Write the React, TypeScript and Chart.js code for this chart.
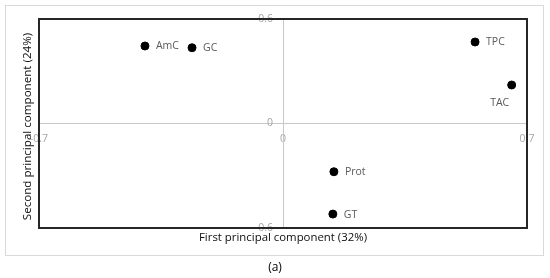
import React, { useEffect, useRef } from "react";
import { Chart, registerables } from "chart.js";

Chart.register(...registerables);

const variables = ["AmC", "GC", "TPC", "TAC", "Prot", "GT"];
const pc1Values = [-0.396, -0.261, 0.551, 0.656, 0.146, 0.143];
const pc2Values = [0.445, 0.435, 0.468, 0.221, -0.277, -0.52];
const labelSides = ["right", "right", "right", "below", "right", "right"];
const xTickValues = [-0.7, 0, 0.7];
const yTickValues = [-0.6, 0, 0.6];
const xTitle = "First principal component (32%)";
const yTitle = "Second principal component (24%)";
const caption = "(a)";

const FONT = "'Open Sans', 'Noto Sans', sans-serif";

const yTickPlugin = {
  id: "yTicks",
  beforeDatasetsDraw(chart: any) {
    const { ctx, scales } = chart;
    const xZero = scales.x.getPixelForValue(0);
    ctx.save();
    ctx.fillStyle = "#a6a6a6";
    ctx.font = `10.5px ${FONT}`;
    ctx.textAlign = "right";
    ctx.textBaseline = "middle";
    yTickValues.forEach((v) => {
      ctx.fillText(String(v), xZero - 10, scales.y.getPixelForValue(v));
    });
    ctx.restore();
  },
};

const decorPlugin = {
  id: "decor",
  afterDraw(chart: any) {
    const { ctx, chartArea } = chart;
    const { left, right, top, bottom } = chartArea;
    ctx.save();
    // outer light frame
    ctx.strokeStyle = "#d9d9d9";
    ctx.lineWidth = 1;
    ctx.strokeRect(5.5, 5.5, 538, 250);
    // plot frame
    ctx.strokeStyle = "#262626";
    ctx.lineWidth = 2;
    ctx.strokeRect(left, top, right - left, bottom - top);
    // data labels
    const meta = chart.getDatasetMeta(0);
    ctx.fillStyle = "#595959";
    ctx.font = `10.5px ${FONT}`;
    meta.data.forEach((pt: any, i: number) => {
      if (labelSides[i] === "below") {
        ctx.textAlign = "center";
        ctx.textBaseline = "middle";
        ctx.fillText(variables[i], pt.x - 12, pt.y + 18);
      } else {
        ctx.textAlign = "left";
        ctx.textBaseline = "middle";
        ctx.fillText(variables[i], pt.x + 11, pt.y + 0.5);
      }
    });
    // axis titles
    ctx.fillStyle = "#0d0d0d";
    ctx.font = `11.4px ${FONT}`;
    ctx.textAlign = "center";
    ctx.textBaseline = "middle";
    ctx.fillText(xTitle, (left + right) / 2, 238);
    ctx.save();
    ctx.translate(28, (top + bottom) / 2 + 3);
    ctx.rotate(-Math.PI / 2);
    ctx.font = `11.6px ${FONT}`;
    ctx.fillText(yTitle, 0, 0);
    ctx.restore();
    // caption
    ctx.fillStyle = "#000000";
    ctx.font = `12px ${FONT}`;
    ctx.fillText(caption, 275, 268);
    ctx.restore();
  },
};

export default function App() {
  const ref = useRef<HTMLCanvasElement>(null);
  useEffect(() => {
    document.body.style.margin = "0";
    const chart = new Chart(ref.current!, {
      type: "scatter",
      data: {
        datasets: [
          {
            data: pc1Values.map((x, i) => ({ x, y: pc2Values[i] })),
            backgroundColor: "#000000",
            borderColor: "#000000",
            pointRadius: 4,
          },
        ],
      },
      options: {
        animation: false,
        responsive: false,
        layout: { padding: { left: 39, top: 19, right: 23, bottom: 50 } },
        plugins: { legend: { display: false }, tooltip: { enabled: false } },
        scales: {
          x: {
            type: "linear",
            min: -0.7,
            max: 0.7,
            position: { y: 0 } as any,
            afterBuildTicks: (s: any) => {
              s.ticks = xTickValues.map((v) => ({ value: v }));
            },
            ticks: {
              color: "#a6a6a6",
              font: { size: 10.5, family: FONT },
              padding: 9,
              maxRotation: 0,
              callback: (v: any) => String(v),
            },
            grid: { display: true, drawOnChartArea: false, drawTicks: false },
            border: { color: "#c8c8c8", width: 1 },
          },
          y: {
            type: "linear",
            min: -0.6,
            max: 0.6,
            position: { x: 0 } as any,
            afterBuildTicks: (s: any) => {
              s.ticks = yTickValues.map((v) => ({ value: v }));
            },
            ticks: { display: false },
            grid: { display: true, drawOnChartArea: false, drawTicks: false },
            border: { color: "#c8c8c8", width: 1 },
          },
        },
      },
      plugins: [yTickPlugin, decorPlugin],
    });
    return () => chart.destroy();
  }, []);
  return <canvas ref={ref} width={550} height={278} style={{ display: "block" }} />;
}
